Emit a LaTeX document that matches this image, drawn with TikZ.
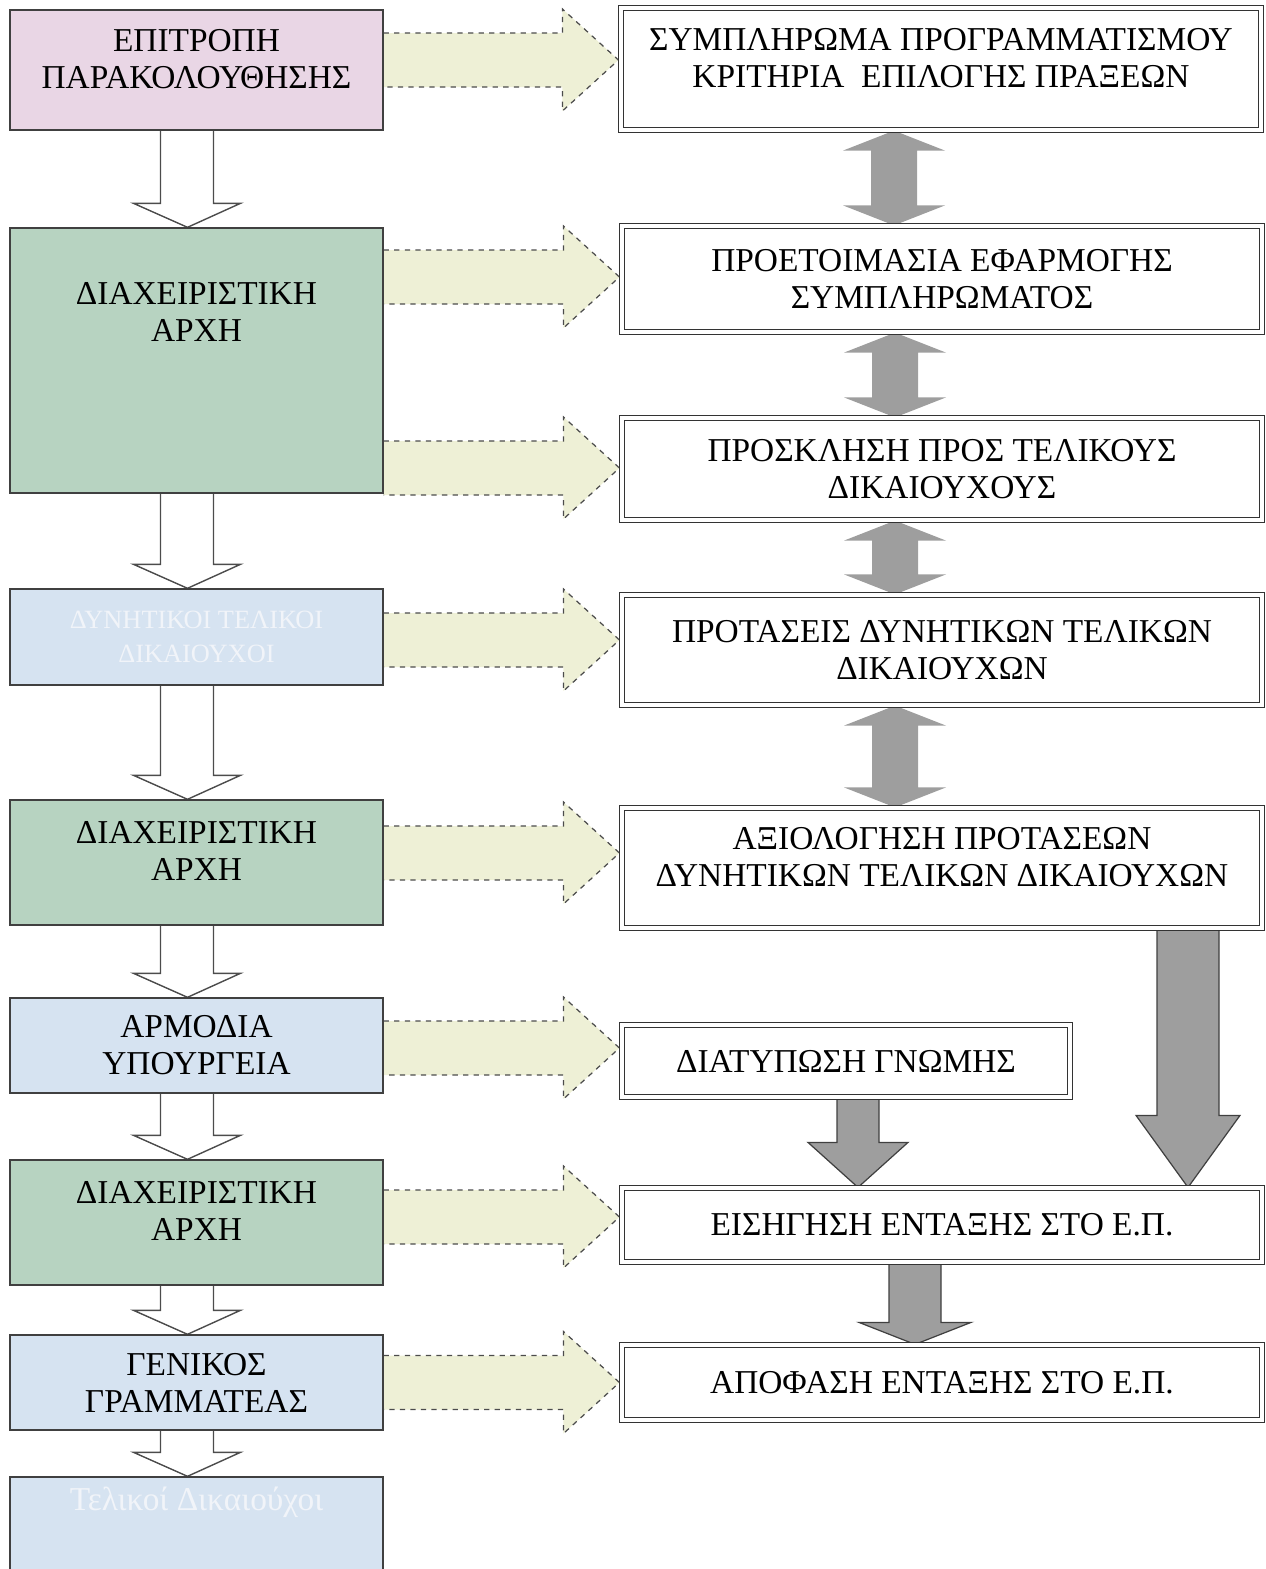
\documentclass[tikz,border=0pt]{standalone}
\usepackage{fontspec}
\setmainfont{Liberation Serif}
\usetikzlibrary{calc}

\definecolor{pinkbox}{RGB}{233,214,229}
\definecolor{greenbox}{RGB}{183,211,193}
\definecolor{bluebox}{RGB}{214,227,241}
\definecolor{hintfill}{RGB}{238,240,214}
\definecolor{fadetext}{RGB}{241,244,249}

\pgfdeclarelayer{background}
\pgfsetlayers{background,main}

% white block arrow between two boxes of the left column
\newcommand{\hollowdown}[2]{%
  \draw[hollow] ($(#1.south)+(-36,0)$) -- ($(#2.north)+(-36,-24)$) -- ($(#2.north)+(-63,-24)$)
    -- ($(#2.north)+(-9,0)$) -- ($(#2.north)+(44,-24)$) -- ($(#2.north)+(17,-24)$) -- ($(#1.south)+(17,0)$);}

% dashed pale arrow: #1 left box, #2 right box, #3 shift of its centre line
\newcommand{\hintarrow}[3]{%
  \coordinate (ha) at ($(#1.east |- #2.west)+(0,#3-27)$);
  \coordinate (hb) at ($(#2.west)+(-58,#3-27)$);
  \coordinate (hc) at ($(#2.west)+(-58,#3-51)$);
  \coordinate (hd) at ($(#2.west)+(-2,#3)$);
  \coordinate (he) at ($(#2.west)+(-58,#3+51)$);
  \coordinate (hf) at ($(#2.west)+(-58,#3+27)$);
  \coordinate (hg) at ($(#1.east |- #2.west)+(0,#3+27)$);
  \fill[hintfill] (ha) -- (hb) -- (hc) -- (hd) -- (he) -- (hf) -- (hg) -- cycle;
  \draw[hint] (ha) -- (hb) -- (hc) -- (hd) -- (he) -- (hf) -- (hg);}

% grey two-way arrow between two boxes of the right column
\newcommand{\greydouble}[2]{%
  \coordinate (gt) at ($(#1.south)+(-47,0)$);
  \coordinate (gb) at (gt |- #2.north);
  \fill[greyarrow] (gt) -- ($(gt)+(51,20)$) -- ($(gt)+(23,20)$) -- ($(gb)+(23,-20)$) -- ($(gb)+(51,-20)$)
    -- (gb) -- ($(gb)+(-51,-20)$) -- ($(gb)+(-23,-20)$) -- ($(gt)+(-23,20)$) -- ($(gt)+(-51,20)$) -- cycle;}

% grey down arrow: #3 x shift, #4 half shaft, #5 half head, #6 head length
\newcommand{\greydown}[6]{%
  \coordinate (gt) at ($(#1.south)+(#3,0)$);
  \coordinate (gb) at (gt |- #2.north);
  \filldraw[greydown] ($(gt)+(-#4,0)$) -- ($(gb)+(-#4,-#6)$) -- ($(gb)+(-#5,-#6)$) -- (gb)
    -- ($(gb)+(#5,-#6)$) -- ($(gb)+(#4,-#6)$) -- ($(gt)+(#4,0)$) -- cycle;}

\begin{document}
\begin{tikzpicture}[x=0.02cm, y=-0.02cm, font=\fontsize{19}{21}\selectfont]
    \tikzstyle{leftbox} = [rectangle, draw=black!75, line width=0.8pt, minimum width=7.46cm, align=center, inner sep=0pt]
    \tikzstyle{rightbox} = [rectangle, draw=black!80, double, double distance=2.4pt, line width=0.7pt, fill=white, minimum width=12.8cm, align=center, inner sep=0pt]
    \tikzstyle{raised} = [text depth=0.45cm]
    \tikzstyle{hollow} = [draw=black!70, line width=0.8pt, fill=white]
    \tikzstyle{hint} = [draw=black!70, dashed, line width=0.7pt]
    \tikzstyle{greyarrow} = [fill=black!38]
    \tikzstyle{greydown} = [fill=black!38, draw=black!75, line width=0.7pt]

    \useasboundingbox (0,0) rectangle (1266,1569);

    % Left column
    \node [leftbox, raised, fill=pinkbox, minimum height=2.4cm] (epitropi) at (196.5,70) {ΕΠΙΤΡΟΠΗ\\ΠΑΡΑΚΟΛΟΥΘΗΣΗΣ};
    \node [leftbox, fill=greenbox, minimum height=5.3cm] (da1) at (196.5,360.5) {};
    \node [align=center] (da1t) at ($(da1.north)+(0,85)$) {ΔΙΑΧΕΙΡΙΣΤΙΚΗ\\ΑΡΧΗ};
    \node [leftbox, fill=bluebox, minimum height=1.92cm, text=fadetext, font=\fontsize{15}{19}\selectfont] (dynitikoi) at (196.5,637) {ΔΥΝΗΤΙΚΟΙ ΤΕΛΙΚΟΙ\\ΔΙΚΑΙΟΥΧΟΙ};
    \node [leftbox, raised, fill=greenbox, minimum height=2.5cm] (da2) at (196.5,862.5) {ΔΙΑΧΕΙΡΙΣΤΙΚΗ\\ΑΡΧΗ};
    \node [leftbox, fill=bluebox, minimum height=1.9cm] (ypourgeia) at (196.5,1045.5) {ΑΡΜΟΔΙΑ\\ΥΠΟΥΡΓΕΙΑ};
    \node [leftbox, raised, fill=greenbox, minimum height=2.5cm] (da3) at (196.5,1222.5) {ΔΙΑΧΕΙΡΙΣΤΙΚΗ\\ΑΡΧΗ};
    \node [leftbox, fill=bluebox, minimum height=1.9cm] (gg) at (196.5,1382.5) {ΓΕΝΙΚΟΣ\\ΓΡΑΜΜΑΤΕΑΣ};
    \node [leftbox, fill=bluebox, minimum height=1.92cm] (telikoi) at (196.5,1525) {};
    \node [text=fadetext] (telikoit) at ($(telikoi.north)+(0,26)$) {Τελικοί Δικαιούχοι};

    % Right column
    \node [rightbox, raised, minimum height=2.44cm] (sympl) at (941,69) {ΣΥΜΠΛΗΡΩΜΑ ΠΡΟΓΡΑΜΜΑΤΙΣΜΟΥ\\ΚΡΙΤΗΡΙΑ\ \ ΕΠΙΛΟΓΗΣ ΠΡΑΞΕΩΝ};
    \node [rightbox, minimum height=2.12cm] (proet) at (942,279) {ΠΡΟΕΤΟΙΜΑΣΙΑ ΕΦΑΡΜΟΓΗΣ\\ΣΥΜΠΛΗΡΩΜΑΤΟΣ};
    \node [rightbox, minimum height=2.04cm] (prosk) at (942,469) {ΠΡΟΣΚΛΗΣΗ ΠΡΟΣ ΤΕΛΙΚΟΥΣ\\ΔΙΚΑΙΟΥΧΟΥΣ};
    \node [rightbox, minimum height=2.2cm] (protaseis) at (942,650) {ΠΡΟΤΑΣΕΙΣ ΔΥΝΗΤΙΚΩΝ ΤΕΛΙΚΩΝ\\ΔΙΚΑΙΟΥΧΩΝ};
    \node [rightbox, raised, minimum height=2.4cm] (axiol) at (942,868) {ΑΞΙΟΛΟΓΗΣΗ ΠΡΟΤΑΣΕΩΝ\\ΔΥΝΗΤΙΚΩΝ ΤΕΛΙΚΩΝ ΔΙΚΑΙΟΥΧΩΝ};
    \node [rightbox, minimum width=8.96cm, minimum height=1.44cm] (gnomi) at (846,1061) {ΔΙΑΤΥΠΩΣΗ ΓΝΩΜΗΣ};
    \node [rightbox, minimum height=1.48cm] (eisigisi) at (942,1225) {ΕΙΣΗΓΗΣΗ ΕΝΤΑΞΗΣ ΣΤΟ Ε.Π.};
    \node [rightbox, minimum height=1.5cm] (apofasi) at (942,1382.5) {ΑΠΟΦΑΣΗ ΕΝΤΑΞΗΣ ΣΤΟ Ε.Π.};

    \begin{pgfonlayer}{background}
    % Left column arrows
    \hollowdown{epitropi}{da1}
    \hollowdown{da1}{dynitikoi}
    \hollowdown{dynitikoi}{da2}
    \hollowdown{da2}{ypourgeia}
    \hollowdown{ypourgeia}{da3}
    \hollowdown{da3}{gg}
    \hollowdown{gg}{telikoi}

    % Left to right
    \hintarrow{epitropi}{sympl}{-9}
    \hintarrow{da1}{proet}{-2}
    \hintarrow{da1}{prosk}{-1}
    \hintarrow{dynitikoi}{protaseis}{-10}
    \hintarrow{da2}{axiol}{-15}
    \hintarrow{ypourgeia}{gnomi}{-13}
    \hintarrow{da3}{eisigisi}{-8}
    \hintarrow{gg}{apofasi}{0}

    % Right column arrows
    \greydouble{sympl}{proet}
    \greydouble{proet}{prosk}
    \greydouble{prosk}{protaseis}
    \greydouble{protaseis}{axiol}
    \greydown{axiol}{eisigisi}{246}{31}{52}{72}
    \greydown{gnomi}{eisigisi}{12}{21}{50}{45}
    \greydown{eisigisi}{apofasi}{-27}{26}{56}{22}
    \end{pgfonlayer}
\end{tikzpicture}
\end{document}
